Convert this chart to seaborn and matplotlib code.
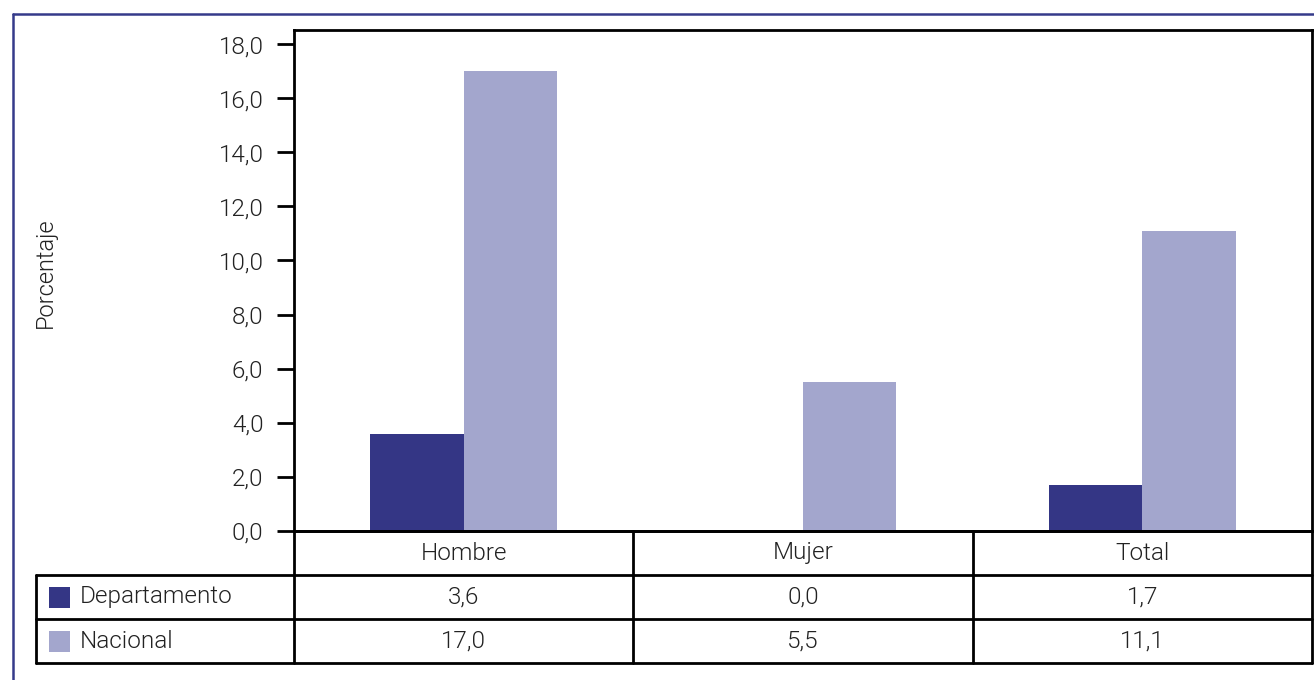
import matplotlib
matplotlib.use("Agg")
import matplotlib.pyplot as plt
from matplotlib.lines import Line2D
from matplotlib.patches import Rectangle
from matplotlib.transforms import blended_transform_factory
import pandas as pd
import seaborn as sns

categories = ["Hombre", "Mujer", "Total"]
series = ["Departamento", "Nacional"]
departamento = [3.6, 0.0, 1.7]
nacional = [17.0, 5.5, 11.1]
y_ticks = [0, 2, 4, 6, 8, 10, 12, 14, 16, 18]
colors = {"Departamento": "#343685", "Nacional": "#A3A6CD"}

df = pd.DataFrame({
    "categoria": categories * 2,
    "serie": ["Departamento"] * 3 + ["Nacional"] * 3,
    "valor": departamento + nacional,
})

sns.set_theme(style="white")
plt.rcParams["font.family"] = ["Roboto", "DejaVu Sans"]
TXT = "#222222"
FW = 300
FS = 17.5

W, H = 1314, 680
fig = plt.figure(figsize=(W / 100, H / 100), dpi=100)

def fx(px):
    return px / W

def fy(py):
    return 1 - py / H

ax_left, ax_right, ax_top, ax_bottom = 294, 1312, 30, 531
ax = fig.add_axes([fx(ax_left), fy(ax_bottom), fx(ax_right - ax_left), (ax_bottom - ax_top) / H])

sns.barplot(data=df, x="categoria", y="valor", hue="serie", order=categories,
            hue_order=series, palette=colors, width=0.55, saturation=1,
            ax=ax, legend=False, linewidth=0)

lw = 2.0
ax.set_xlim(-0.5, 2.5)
ax.set_ylim(0, 18.52)
ax.set_yticks(y_ticks)
ax.set_yticklabels([f"{v:.1f}".replace(".", ",") for v in y_ticks],
                   fontsize=FS, color=TXT, fontweight=FW)
ax.tick_params(axis="y", length=12, width=lw, color="black", pad=10, left=True)
ax.set_xticks([])
ax.set_xlabel("")
ax.set_ylabel("")
for s in ax.spines.values():
    s.set_color("black")
    s.set_linewidth(lw)

fig.text(fx(45), fy(273), "Porcentaje", rotation=90, ha="center", va="center",
         fontsize=17, color=TXT, fontweight=FW)

# data table under the plot
tr = blended_transform_factory(ax.transData, fig.transFigure)
row_y = [531, 575, 619, 663]
table_left = 36
# horizontal rules
fig.add_artist(Line2D([fx(ax_left), fx(ax_right)], [fy(row_y[0])] * 2, color="black", lw=lw))
for py in row_y[1:]:
    fig.add_artist(Line2D([fx(table_left), fx(ax_right)], [fy(py)] * 2, color="black", lw=lw))
# vertical rules
fig.add_artist(Line2D([fx(table_left)] * 2, [fy(row_y[1]), fy(row_y[3])], color="black", lw=lw))
fig.add_artist(Line2D([fx(ax_left)] * 2, [fy(ax_bottom), fy(row_y[3])], color="black", lw=lw))
fig.add_artist(Line2D([fx(ax_right)] * 2, [fy(ax_bottom), fy(row_y[3])], color="black", lw=lw))
for b in [0.5, 1.5]:
    fig.add_artist(Line2D([b, b], [fy(row_y[0]), fy(row_y[3])], color="black", lw=lw,
                          transform=tr))

# header row with category names
for i, c in enumerate(categories):
    fig.text(i, fy((row_y[0] + row_y[1]) / 2), c, transform=tr, ha="center", va="center",
             fontsize=FS, color=TXT, fontweight=FW)

# series rows with swatches and values
rows = [departamento, nacional]
for r, (name, vals) in enumerate(zip(series, rows)):
    yc = (row_y[r + 1] + row_y[r + 2]) / 2
    fig.add_artist(Rectangle((fx(49), fy(yc + 10.5)), fx(21), 21 / H,
                             facecolor=colors[name], edgecolor="none"))
    fig.text(fx(80), fy(yc), name, ha="left", va="center", fontsize=FS, color=TXT,
             fontweight=FW)
    for i, v in enumerate(vals):
        fig.text(i, fy(yc), f"{v:.1f}".replace(".", ","), transform=tr, ha="center",
                 va="center", fontsize=FS, color=TXT, fontweight=FW)

# outer frame
frame_c = "#353A8A"
fig.add_artist(Line2D([fx(13), 1.0], [fy(14)] * 2, color=frame_c, lw=1.8))
fig.add_artist(Line2D([fx(13)] * 2, [fy(14), 0.0], color=frame_c, lw=1.8))

fig.savefig("out.png", dpi=100)
